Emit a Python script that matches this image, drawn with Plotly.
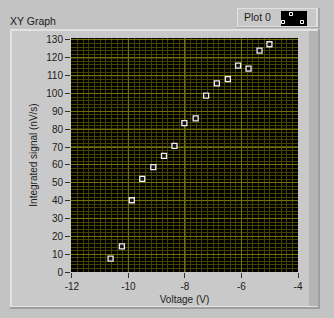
import plotly.graph_objects as go

# Data
voltage = [-10.63, -10.23, -9.88, -9.51, -9.12, -8.74, -8.37, -8.02,
           -7.62, -7.25, -6.87, -6.48, -6.12, -5.75, -5.36, -5.01]
signal = [7.5, 14.4, 40.2, 52.2, 58.8, 65.1, 70.7, 83.4,
          86.1, 98.8, 105.7, 108.1, 115.6, 113.9, 124.0, 127.6]
x_ticks = [-12, -10, -8, -6, -4]
y_ticks = [0, 10, 20, 30, 40, 50, 60, 70, 80, 90, 100, 110, 120, 130]
bright_y = [30, 40, 70, 80, 110, 120]
bright_x = [-10, -8, -6]

W, H = 334, 318
L, R, T, B = 71, 36, 38, 46
FONT = "Liberation Sans"
TXT = "#1c1c1c"

def px(x):
    return (x - L) / (W - L - R)

def py(y):
    return 1 - (y - T) / (H - T - B)

fig = go.Figure()
fig.add_trace(go.Scatter(
    x=voltage, y=signal, mode="markers",
    marker=dict(symbol="square", size=5, color="#151515",
                line=dict(color="#eeeeee", width=1.3)),
    showlegend=False, cliponaxis=False))

shapes = []
# panel with bevel
shapes.append(dict(type="rect", xref="paper", yref="paper", layer="below",
                   x0=px(10), x1=px(320), y0=py(309), y1=py(29),
                   fillcolor="#9e9e9e", line=dict(width=0)))
shapes.append(dict(type="rect", xref="paper", yref="paper", layer="below",
                   x0=px(10), x1=px(318), y0=py(307), y1=py(29),
                   fillcolor="#e2e2e2", line=dict(width=0)))
shapes.append(dict(type="rect", xref="paper", yref="paper", layer="below",
                   x0=px(12), x1=px(309), y0=py(306), y1=py(31),
                   fillcolor="#c9c9c9", line=dict(width=0)))
shapes.append(dict(type="rect", xref="paper", yref="paper", layer="below",
                   x0=px(309), x1=px(318), y0=py(306), y1=py(31),
                   fillcolor="#b4b4b4", line=dict(width=0)))
# black plot area on top of the panel
shapes.append(dict(type="rect", xref="paper", yref="paper", layer="below",
                   x0=0, x1=1, y0=0, y1=1,
                   fillcolor="#000000", line=dict(width=0)))
# bright grid lines
for v in bright_y:
    shapes.append(dict(type="line", xref="paper", yref="y", layer="below",
                       x0=0, x1=1, y0=v, y1=v,
                       line=dict(color="#a8a80e", width=1)))
for v in bright_x:
    shapes.append(dict(type="line", xref="x", yref="paper", layer="below",
                       x0=v, x1=v, y0=0, y1=1,
                       line=dict(color="#a8a80e", width=1)))
# legend box
shapes.append(dict(type="rect", xref="paper", yref="paper",
                   x0=px(237), x1=px(320), y0=py(28), y1=py(8),
                   fillcolor="#a6a6a6", line=dict(width=0)))
shapes.append(dict(type="rect", xref="paper", yref="paper",
                   x0=px(237), x1=px(318), y0=py(27), y1=py(8),
                   fillcolor="#e0e0e0", line=dict(width=0)))
shapes.append(dict(type="rect", xref="paper", yref="paper",
                   x0=px(238), x1=px(316), y0=py(26), y1=py(9),
                   fillcolor="#c8c8c8", line=dict(width=0)))
shapes.append(dict(type="rect", xref="paper", yref="paper",
                   x0=px(281), x1=px(307), y0=py(26), y1=py(11),
                   fillcolor="#000000", line=dict(width=0)))
for cx, cy in [(291, 14), (283, 22), (302, 22)]:
    shapes.append(dict(type="rect", xref="paper", yref="paper",
                       x0=px(cx - 1.5), x1=px(cx + 1.5), y0=py(cy + 1.5), y1=py(cy - 1.5),
                       fillcolor="#000000", line=dict(color="#ffffff", width=1)))

annotations = [
    dict(text="XY Graph", xref="paper", yref="paper", x=px(8), y=py(21),
         xanchor="left", yanchor="middle", showarrow=False,
         font=dict(family=FONT, size=10.5, color=TXT)),
    dict(text="Plot 0", xref="paper", yref="paper", x=px(257), y=py(17),
         xanchor="center", yanchor="middle", showarrow=False,
         font=dict(family=FONT, size=10.5, color=TXT)),
]

fig.update_layout(
    width=W, height=H,
    margin=dict(l=L, r=R, t=T, b=B, pad=0),
    paper_bgcolor="#c3c3c3", plot_bgcolor="#000000",
    shapes=shapes, annotations=annotations,
    font=dict(family=FONT, size=10, color=TXT),
    xaxis=dict(range=[-12.03, -4.0], tickvals=x_ticks,
               ticktext=[str(v) for v in x_ticks],
               showgrid=True, gridcolor="#727208", gridwidth=1,
               minor=dict(dtick=0.2, tick0=-12, showgrid=True, gridcolor="#444400", ticks=""),
               ticks="outside", ticklen=5, tickcolor="#303030",
               zeroline=False, showline=False,
               title=dict(text="Voltage (V)", standoff=4,
                          font=dict(family=FONT, size=10, color=TXT)),
               tickfont=dict(family=FONT, size=10, color=TXT)),
    yaxis=dict(range=[0, 131.1], tickvals=y_ticks,
               showgrid=True, gridcolor="#727208", gridwidth=1,
               minor=dict(dtick=2, tick0=0, showgrid=True, gridcolor="#444400", ticks=""),
               ticks="outside", ticklen=5, tickcolor="#303030",
               zeroline=False, showline=False,
               title=dict(text="Integrated signal (nV/s)", standoff=6,
                          font=dict(family=FONT, size=10, color=TXT)),
               tickfont=dict(family=FONT, size=10, color=TXT)),
)

fig.write_html("out.html")
